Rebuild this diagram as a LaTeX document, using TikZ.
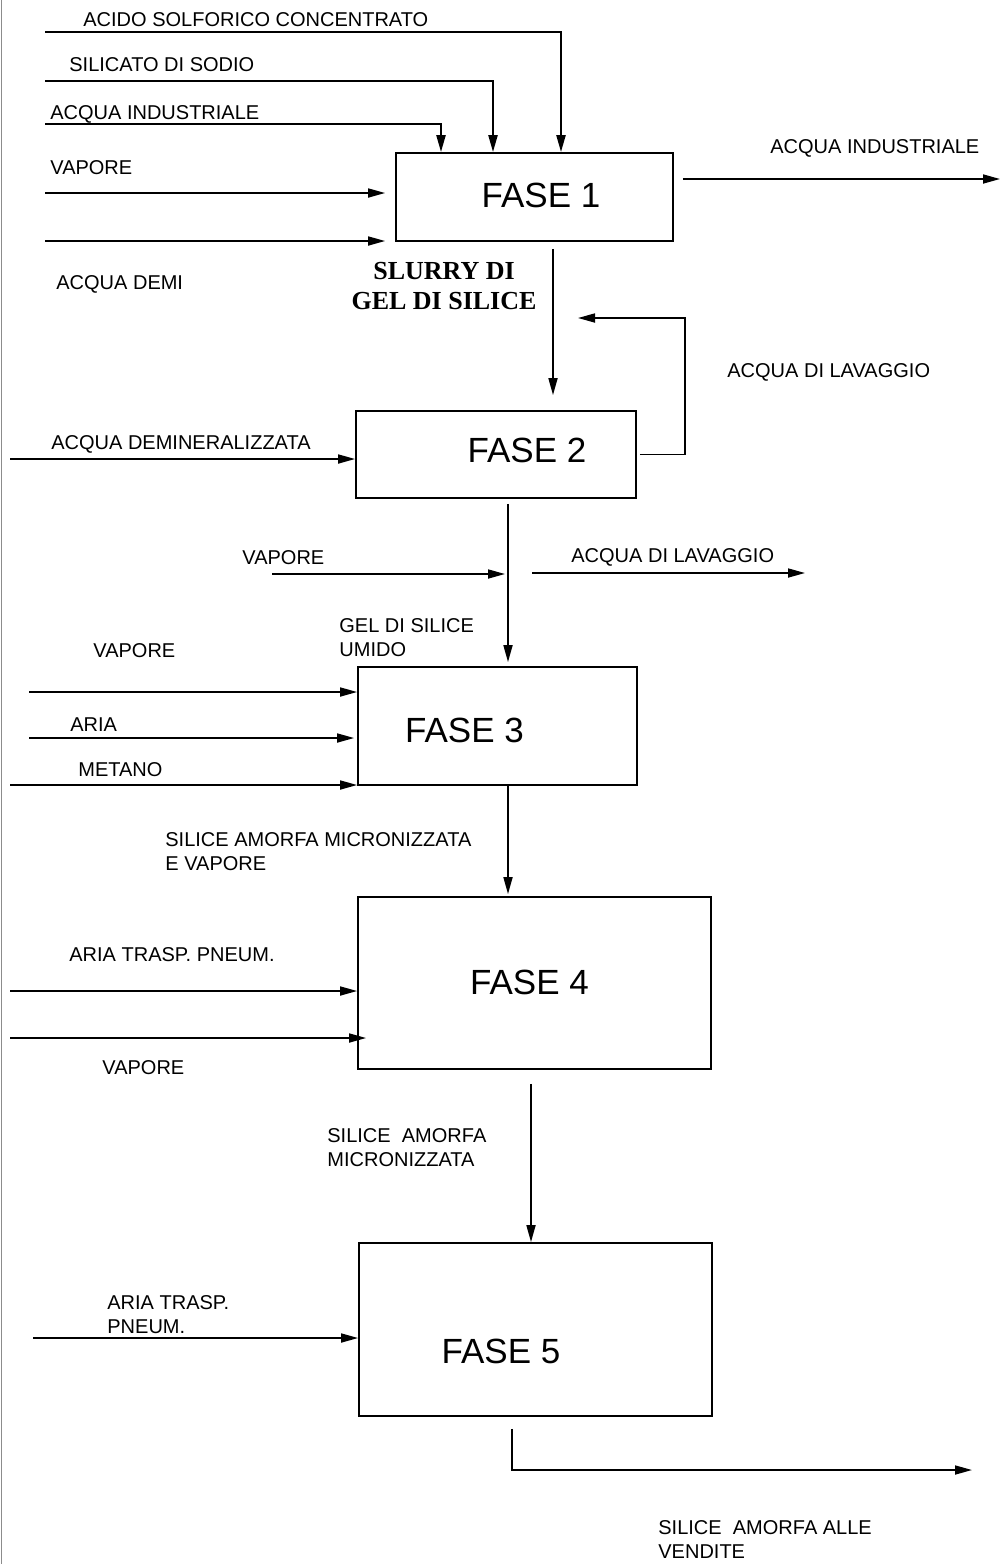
\documentclass[tikz,border=0pt]{standalone}
\usepackage{fontspec}
\setmainfont{Liberation Sans}
\newfontfamily\slurryfont{Liberation Serif}
\usetikzlibrary{arrows.meta, positioning}

\tikzset{
  fase/.style={draw, line width=0.9pt, inner sep=0pt},
  fasetext/.style={font=\fontsize{17.5}{21}\selectfont, inner sep=0pt},
  lbl/.style={font=\fontsize{10}{12}\selectfont, inner sep=0pt, anchor=north west, align=left},
  flow/.style={line width=0.85pt, -{Triangle[length=8.5pt,width=4.5pt]}},
  feed/.style={flow, line width=1.1pt},
}

\begin{document}
\begin{tikzpicture}[x=0.5pt, y=-0.5pt]
  \useasboundingbox (0,0) rectangle (1002,1564);
  \draw[black!45, line width=0.5pt] (1.5,0) -- (1.5,1564);

  % the five phases
  \node[fase, minimum width=138.5pt, minimum height=44pt] (f1) at (534.5,197) {};
  \node[fase, minimum width=140pt, minimum height=43.5pt] (f2) at (496,454.5) {};
  \node[fase, minimum width=139.5pt, minimum height=59pt] (f3) at (497.5,726) {};
  \node[fase, minimum width=176.5pt, minimum height=86pt] (f4) at (534.5,983) {};
  \node[fase, minimum width=176.5pt, minimum height=86.5pt] (f5) at (535.5,1329.5) {};
  \node[fasetext] (f1text) at (541,195) {FASE 1};
  \node[fasetext] (f2text) at (527,450) {FASE 2};
  \node[fasetext] (f3text) at (464.5,730) {FASE 3};
  \node[fasetext] (f4text) at (529.5,982.5) {FASE 4};
  \node[fasetext] (f5text) at (501,1351.5) {FASE 5};

  % labels
  \node[lbl] (acido) at (83,12) {ACIDO SOLFORICO CONCENTRATO};
  \node[lbl] (silicato) at (69,57) {SILICATO DI SODIO};
  \node[lbl] (acquaind) at (50,105) {ACQUA INDUSTRIALE};
  \node[lbl] (vapore1) at (50,160) {VAPORE};
  \node[lbl] (demi) at (56,275) {ACQUA DEMI};
  \node[lbl] (acquaindout) at (770,139) {ACQUA INDUSTRIALE};
  \node[inner sep=0pt, anchor=north, align=center, font=\slurryfont\bfseries\fontsize{13}{15}\selectfont] (slurry) at (444,262) {SLURRY DI\\GEL DI SILICE};
  \node[lbl] (lavaggio1) at (727,363) {ACQUA DI LAVAGGIO};
  \node[lbl] (demin) at (51,435) {ACQUA DEMINERALIZZATA};
  \node[lbl] (vapore2) at (242,550) {VAPORE};
  \node[lbl] (lavaggio2) at (571,548) {ACQUA DI LAVAGGIO};
  \node[lbl] (gelumido) at (339,618) {GEL DI SILICE\\UMIDO};
  \node[lbl] (vapore3) at (93,643) {VAPORE};
  \node[lbl] (aria) at (70,717) {ARIA};
  \node[lbl] (metano) at (78,762) {METANO};
  \node[lbl] (silmicvap) at (165,832) {SILICE AMORFA MICRONIZZATA\\E VAPORE};
  \node[lbl] (ariatp) at (69,947) {ARIA TRASP. PNEUM.};
  \node[lbl] (vapore4) at (102,1060) {VAPORE};
  \node[lbl] (silmic) at (327,1128) {SILICE\ \ AMORFA\\MICRONIZZATA};
  \node[lbl] (ariatp2) at (107,1295) {ARIA TRASP.\\PNEUM.};
  \node[lbl] (vendite) at (658,1520) {SILICE\ \ AMORFA ALLE\\VENDITE};

  % free ends and bends
  \coordinate (acidoin) at (45,32);    \coordinate (acidobend) at (561,32);
  \coordinate (silin) at (45,81);      \coordinate (silbend) at (493,81);
  \coordinate (indin) at (45,124);     \coordinate (indbend) at (441,124);
  \coordinate (vap1in) at (45,193);
  \coordinate (demiin) at (45,241);
  \coordinate (indout) at (1000,179);
  \coordinate (slurryx) at (553,0);
  \coordinate (washret) at (578,318);
  \coordinate (deminin) at (10,459);
  \coordinate (gelx) at (508,0);
  \coordinate (vap2in) at (272,574);
  \coordinate (lav2a) at (532,573);    \coordinate (lav2b) at (805,573);
  \coordinate (vap3in) at (29,692);
  \coordinate (ariain) at (29,738);
  \coordinate (metin) at (10,785);
  \coordinate (aria4in) at (10,991);
  \coordinate (vap4in) at (10,1038);
  \coordinate (micx) at (531,0);
  \coordinate (aria5in) at (33,1338);
  \coordinate (salesx) at (512,0);
  \coordinate (salesout) at (972,1470);

  % fase 1
  \draw[feed] (acidoin) -- (acidobend) -- (acidobend |- f1.north);
  \draw[feed] (silin) -- (silbend) -- (silbend |- f1.north);
  \draw[feed] (indin) -- (indbend) -- (indbend |- f1.north);
  \draw[flow, shorten >=5pt] (vap1in) -- (vap1in -| f1.west);
  \draw[flow, shorten >=5pt] (demiin) -- (demiin -| f1.west);
  \draw[flow] ([xshift=4.5pt]f1.east |- indout) -- (indout);
  \draw[flow, shorten <=3.5pt, shorten >=7.5pt] (f1.south -| slurryx) -- (f2.north -| slurryx);

  % fase 2
  \draw[flow] (deminin) -- (deminin -| f2.west);
  \draw[flow] ([xshift=1.5pt]f2.east) -- ++(45,0) |- (washret);
  \draw[flow, shorten <=2.5pt, shorten >=2pt] (f2.south -| gelx) -- (f3.north -| gelx);
  \draw[flow, shorten >=1.5pt] (vap2in) -- (vap2in -| gelx);
  \draw[flow] (lav2a) -- (lav2b);

  % fase 3
  \draw[flow] (vap3in) -- (vap3in -| f3.west);
  \draw[flow, shorten >=1.5pt] (ariain) -- (ariain -| f3.west);
  \draw[flow] (metin) -- (metin -| f3.west);
  \draw[flow, shorten >=1pt] (f3.south -| gelx) -- (f4.north -| gelx);

  % fase 4
  \draw[flow] (aria4in) -- (aria4in -| f4.west);
  \draw[flow, shorten >=-4.5pt] (vap4in) -- (vap4in -| f4.west);
  \draw[flow, shorten <=7pt] (f4.south -| micx) -- (f5.north -| micx);

  % fase 5
  \draw[flow] (aria5in) -- (aria5in -| f5.west);
  \draw[flow] ([yshift=-6pt]f5.south -| salesx) |- (salesout);
\end{tikzpicture}
\end{document}
